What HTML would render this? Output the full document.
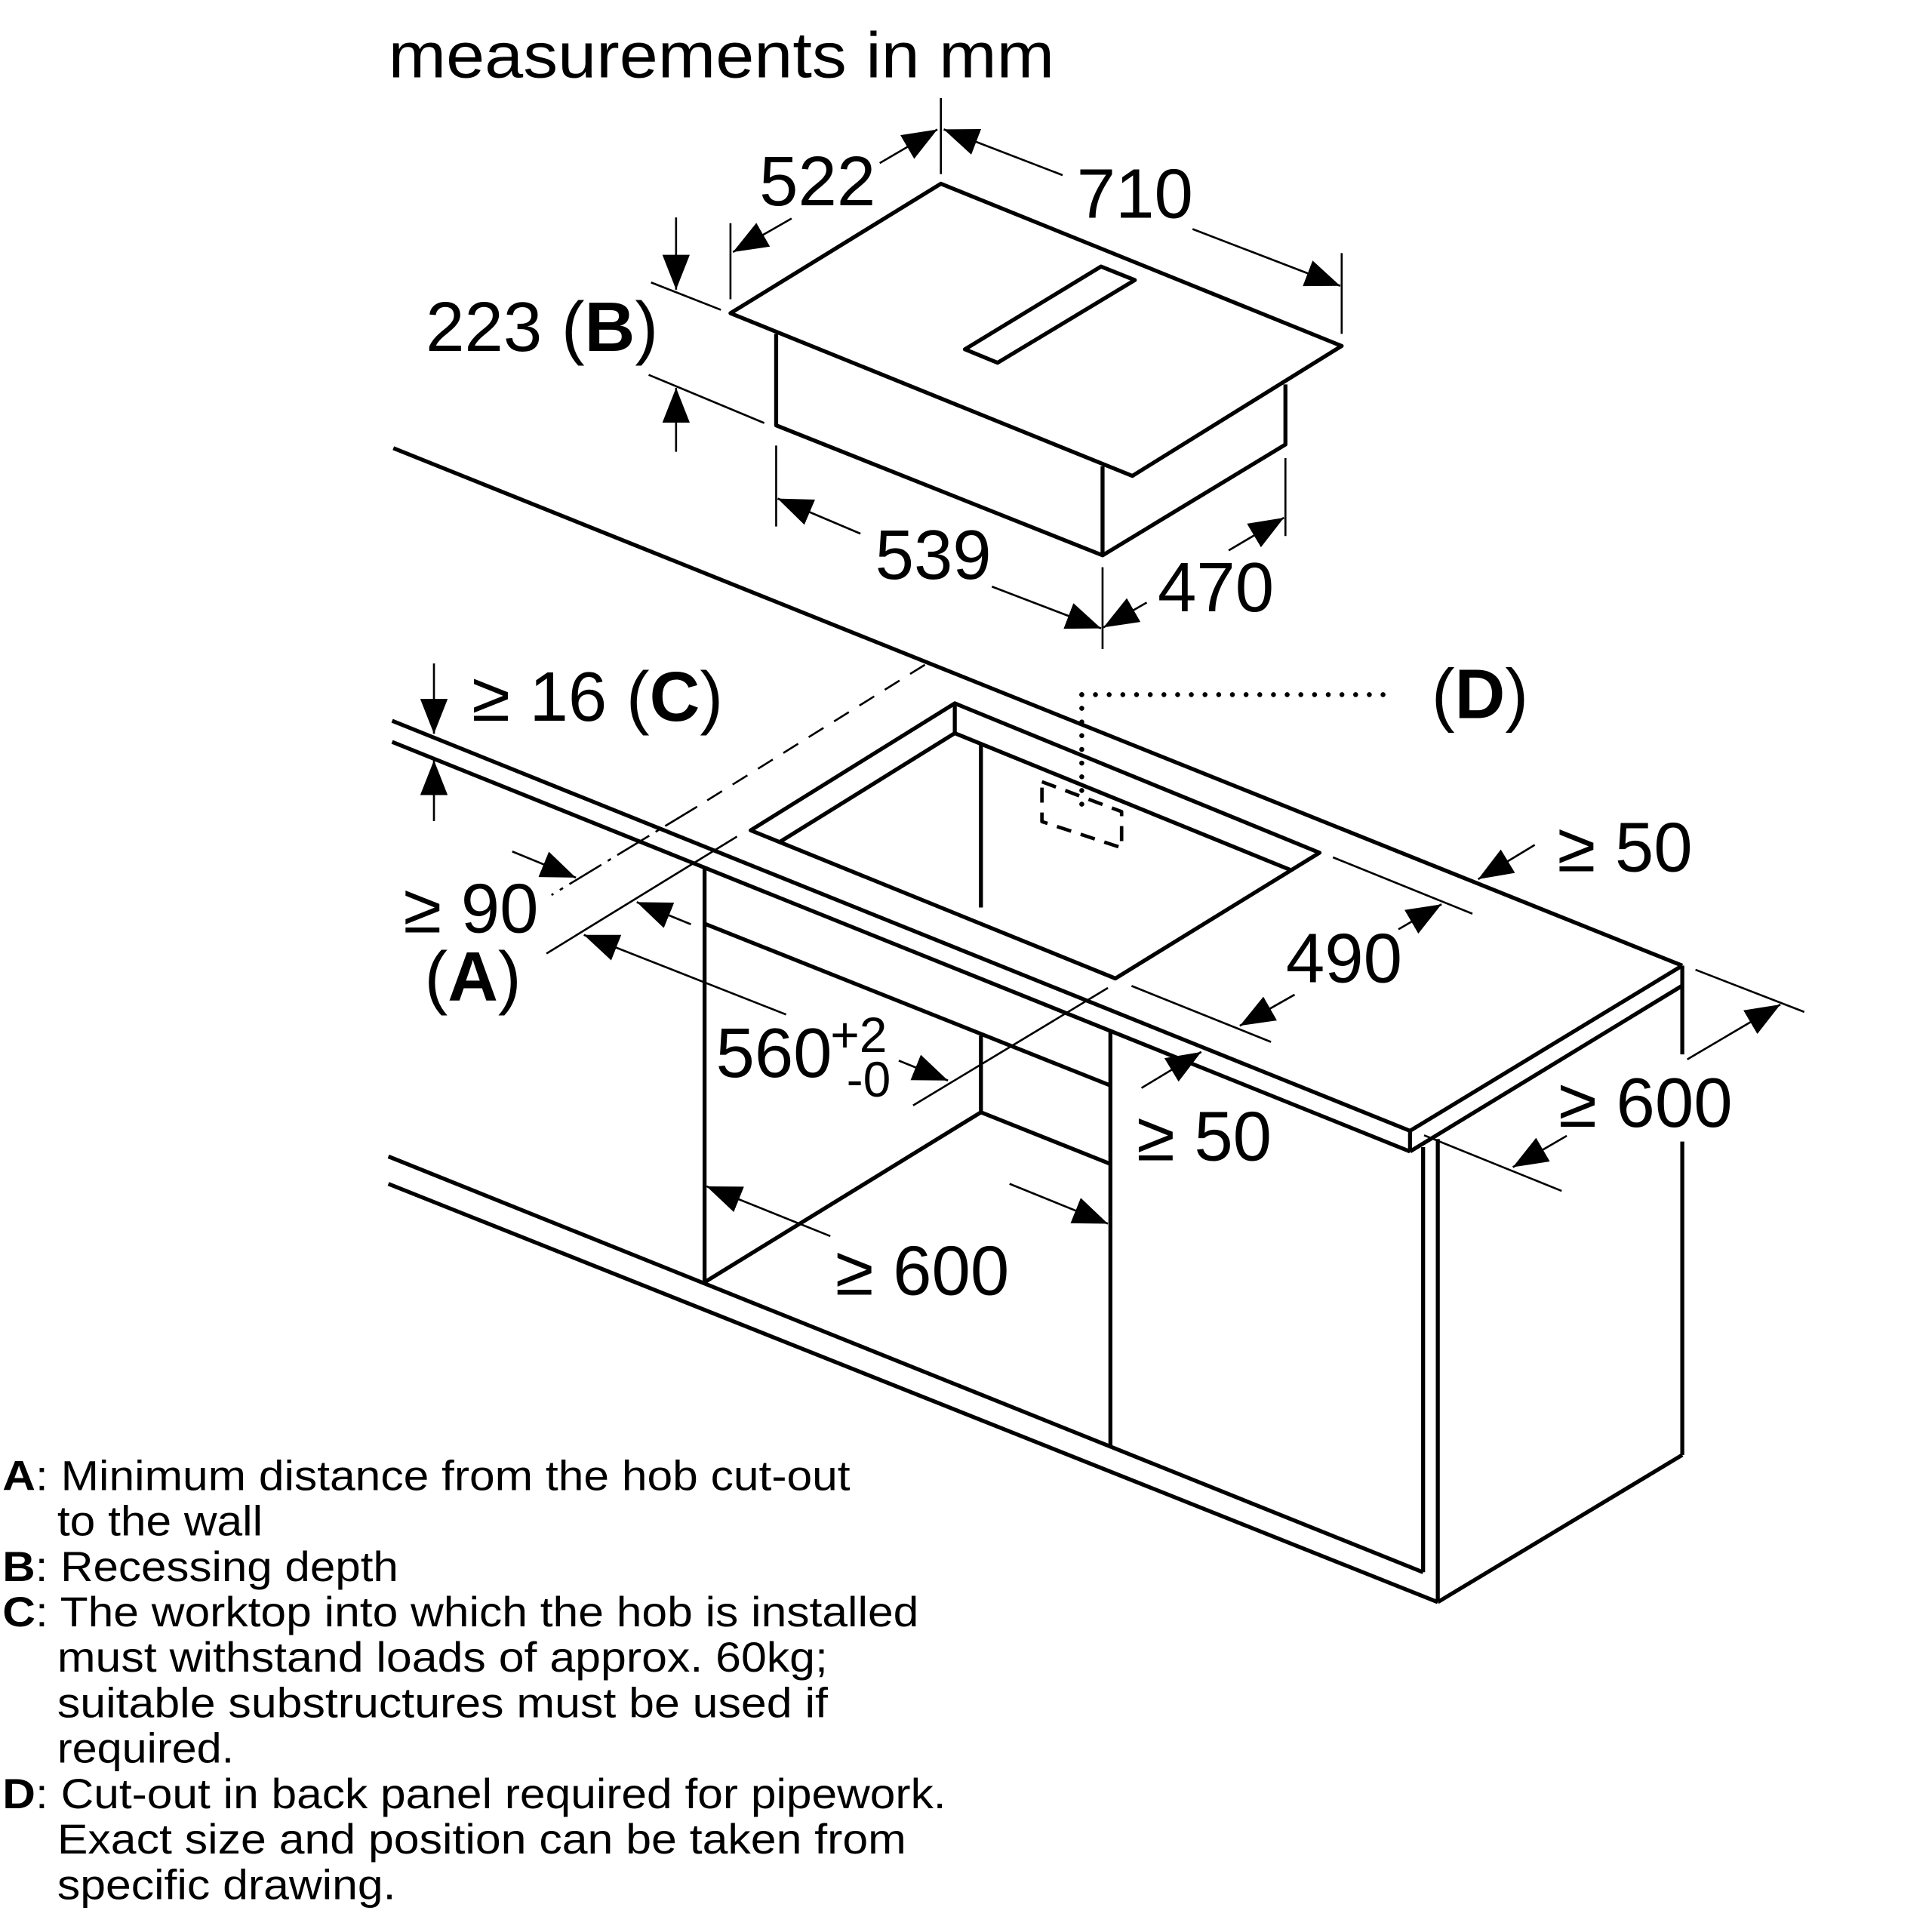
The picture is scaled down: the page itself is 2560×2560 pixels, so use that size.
<!DOCTYPE html>
<html><head><meta charset="utf-8"><style>html,body{margin:0;padding:0;background:#fff}svg{display:block}</style></head>
<body>
<svg xmlns="http://www.w3.org/2000/svg" width="2560" height="2560" viewBox="0 0 1552 1552">
<defs>
<marker id="a" markerUnits="userSpaceOnUse" markerWidth="28" markerHeight="22" refX="28" refY="11" orient="auto" viewBox="0 0 28 22"><path d="M0,0 L28,11 L0,22 z" fill="#000"/></marker>
</defs>
<rect width="1552" height="1552" fill="#fff"/>
<g fill="none" stroke="#000" stroke-width="3.2" stroke-linejoin="round">
<polygon points="755.8,147.6 1077.8,277.9 909.6,382.3 586.8,251.6"/>
<polygon points="884.5,214.1 911.6,225 801.4,291.4 775.1,280.6"/>
<polyline points="623.5,268.2 623.5,341.7 885.7,446.1 1032.6,357.1 1032.6,308.8"/>
<line x1="885.7" y1="374.5" x2="885.7" y2="446.1"/>
<line x1="316" y1="360" x2="1351.4" y2="775.7"/>
<line x1="315" y1="579" x2="1132.7" y2="908.4"/>
<line x1="315" y1="596" x2="1132.7" y2="925"/>
<line x1="1132.7" y1="908.4" x2="1351.4" y2="775.7"/>
<line x1="1132.7" y1="925" x2="1351.4" y2="791.8"/>
<line x1="1132.7" y1="908.4" x2="1132.7" y2="925"/>
<line x1="1351.4" y1="775.7" x2="1351.4" y2="847"/>
<line x1="1351.4" y1="917" x2="1351.4" y2="1168.8"/>
<line x1="1155" y1="1287" x2="1351.4" y2="1168.8"/>
<line x1="1143.2" y1="921.5" x2="1143.2" y2="1263"/>
<line x1="1155" y1="915" x2="1155" y2="1287"/>
<line x1="312" y1="929" x2="1143.2" y2="1263"/>
<line x1="312" y1="951" x2="1155" y2="1287"/>
<line x1="566" y1="696" x2="566" y2="1030"/>
<line x1="566" y1="742" x2="892" y2="872"/>
<line x1="892" y1="827" x2="892" y2="1161"/>
<line x1="788" y1="598" x2="788" y2="729"/>
<line x1="788" y1="832" x2="788" y2="893.5"/>
<line x1="788" y1="893.5" x2="892" y2="935"/>
<line x1="788" y1="893.5" x2="566" y2="1030"/>
<polygon points="767,565 1060,685 896,786 603,667"/>
<polyline points="627,676 767,589 1037,699"/>
<line x1="767" y1="565" x2="767" y2="589"/>
<path d="M837,628 L901,652 L901,681 L837,660 Z" stroke-width="2.8" stroke-dasharray="12 8"/>
</g>
<g fill="none" stroke="#000" stroke-linecap="round">
<line x1="869" y1="558" x2="1122" y2="558" stroke-width="4" stroke-dasharray="0 11"/>
<line x1="869" y1="558" x2="869" y2="657" stroke-width="4" stroke-dasharray="0 11"/>
</g>
<g fill="none" stroke="#000" stroke-width="1.6">
<line x1="743" y1="534" x2="560" y2="648" stroke-dasharray="14 10"/>
<line x1="560" y1="648" x2="443" y2="719" stroke-dasharray="30 6 3 6"/>
<line x1="755.8" y1="78.8" x2="755.8" y2="139.9"/>
<line x1="1077.8" y1="203.3" x2="1077.8" y2="268.2"/>
<line x1="586.8" y1="179.3" x2="586.8" y2="240.4"/>
<line x1="523" y1="226.9" x2="579.1" y2="248.9"/>
<line x1="521.1" y1="301.1" x2="613.9" y2="339.8"/>
<line x1="623.5" y1="357.9" x2="623.5" y2="422.9"/>
<line x1="885.7" y1="455.7" x2="885.7" y2="521.4"/>
<line x1="1032.6" y1="368" x2="1032.6" y2="430.6"/>
<line x1="439" y1="766" x2="592" y2="672"/>
<line x1="733.5" y1="888" x2="890" y2="793.6"/>
<line x1="909" y1="792" x2="1021" y2="837"/>
<line x1="1070.8" y1="688.7" x2="1182.8" y2="734"/>
<line x1="1362" y1="779" x2="1449.4" y2="812.9"/>
<line x1="1144" y1="912" x2="1254.5" y2="956.7"/>
</g>
<g fill="none" stroke="#000" stroke-width="1.6" marker-end="url(#a)">
<line x1="853.6" y1="140.7" x2="758.1" y2="103.9"/>
<line x1="958" y1="184" x2="1076.6" y2="229.6"/>
<line x1="706.7" y1="131" x2="753" y2="104"/>
<line x1="635.9" y1="175.5" x2="588.8" y2="202.5"/>
<line x1="543.1" y1="174.7" x2="543.1" y2="232.7"/>
<line x1="543.1" y1="362.9" x2="543.1" y2="311.5"/>
<line x1="691.2" y1="428.7" x2="624.7" y2="400.5"/>
<line x1="796.8" y1="471.2" x2="884.5" y2="504.8"/>
<line x1="987" y1="442.2" x2="1031.4" y2="415.9"/>
<line x1="921.2" y1="484" x2="886.4" y2="504"/>
<line x1="348.6" y1="533" x2="348.6" y2="589.5"/>
<line x1="348.6" y1="659.6" x2="348.6" y2="610.7"/>
<line x1="411.5" y1="684" x2="462.6" y2="705"/>
<line x1="555" y1="742.5" x2="511.5" y2="724.7"/>
<line x1="631.5" y1="815" x2="469" y2="751"/>
<line x1="722" y1="852" x2="761.5" y2="868"/>
<line x1="1040" y1="799" x2="996" y2="824"/>
<line x1="1123.4" y1="746.5" x2="1158" y2="726.4"/>
<line x1="1232.9" y1="678.7" x2="1187.4" y2="706.3"/>
<line x1="917" y1="874" x2="965" y2="845"/>
<line x1="667" y1="993" x2="567.6" y2="953"/>
<line x1="811" y1="951" x2="890" y2="983"/>
<line x1="1355.4" y1="851" x2="1430.2" y2="806.9"/>
<line x1="1258.6" y1="912.4" x2="1215.3" y2="937.6"/>
</g>
<g font-family="'Liberation Sans', Arial, sans-serif" fill="#000" font-size="56">
<text x="312" y="62" font-size="52" textLength="535" lengthAdjust="spacingAndGlyphs">measurements in mm</text>
<text x="610" y="165">522</text>
<text x="865" y="175">710</text>
<text x="342" y="282">223 (<tspan font-weight="bold">B</tspan>)</text>
<text x="703" y="465">539</text>
<text x="930" y="491">470</text>
<text x="379" y="579">≥ 16 (<tspan font-weight="bold">C</tspan>)</text>
<text x="1150" y="577">(<tspan font-weight="bold">D</tspan>)</text>
<text x="1251" y="700">≥ 50</text>
<text x="1033" y="789">490</text>
<text x="324" y="749">≥ 90</text>
<text x="341" y="804">(<tspan font-weight="bold">A</tspan>)</text>
<text x="575" y="865">560</text>
<text x="667" y="845" font-size="40">+2</text>
<text x="680" y="881" font-size="40">-0</text>
<text x="913" y="932">≥ 50</text>
<text x="1252" y="905">≥ 600</text>
<text x="671" y="1040">≥ 600</text>
</g>
<g font-family="'Liberation Sans', Arial, sans-serif" fill="#000" font-size="34" lengthAdjust="spacingAndGlyphs">
<text x="2" y="1197" textLength="681" lengthAdjust="spacingAndGlyphs"><tspan font-weight="bold">A</tspan>: Minimum distance from the hob cut-out</text>
<text x="46" y="1233.5" textLength="165" lengthAdjust="spacingAndGlyphs">to the wall</text>
<text x="2" y="1270" textLength="318" lengthAdjust="spacingAndGlyphs"><tspan font-weight="bold">B</tspan>: Recessing depth</text>
<text x="2" y="1306.5" textLength="736" lengthAdjust="spacingAndGlyphs"><tspan font-weight="bold">C</tspan>: The worktop into which the hob is installed</text>
<text x="46" y="1343" textLength="619" lengthAdjust="spacingAndGlyphs">must withstand loads of approx. 60kg;</text>
<text x="46" y="1379.5" textLength="619" lengthAdjust="spacingAndGlyphs">suitable substructures must be used if</text>
<text x="46" y="1416" textLength="142" lengthAdjust="spacingAndGlyphs">required.</text>
<text x="2" y="1452.5" textLength="758" lengthAdjust="spacingAndGlyphs"><tspan font-weight="bold">D</tspan>: Cut-out in back panel required for pipework.</text>
<text x="46" y="1489" textLength="682" lengthAdjust="spacingAndGlyphs">Exact size and position can be taken from</text>
<text x="46" y="1525.5" textLength="272" lengthAdjust="spacingAndGlyphs">specific drawing.</text>
</g>
</svg>
</body></html>
